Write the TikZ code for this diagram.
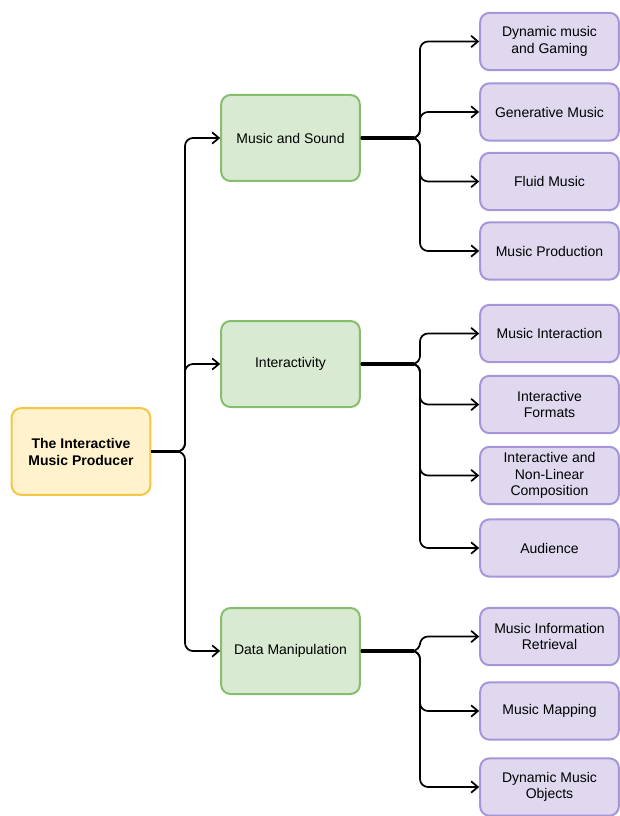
\documentclass[tikz,border=0pt]{standalone}
\usepackage{fontspec}
\setmainfont{Liberation Sans}
\usetikzlibrary{positioning, arrows.meta}

\definecolor{root_fill}{HTML}{FFF2CC}
\definecolor{root_line}{HTML}{F2C744}
\definecolor{mid_fill}{HTML}{D9EAD3}
\definecolor{mid_line}{HTML}{85BF6C}
\definecolor{leaf_fill}{HTML}{E0D8EF}
\definecolor{leaf_line}{HTML}{A795DA}

\begin{document}
\begin{tikzpicture}[
    x=0.75pt, y=-0.75pt,
    font=\fontsize{10.5}{12.5}\selectfont,
    box/.style={rounded corners=7pt, line width=1.5pt, align=center, inner sep=2pt, minimum width=104pt},
    root_box/.style={box, fill=root_fill, draw=root_line, minimum height=65pt, font=\fontsize{10.5}{12.75}\selectfont\bfseries},
    mid_box/.style={box, fill=mid_fill, draw=mid_line, minimum height=64.5pt},
    leaf_box/.style={box, fill=leaf_fill, draw=leaf_line, minimum height=43pt},
    link/.style={-{Straight Barb[length=5pt,width=8.5pt,line width=1.3pt]}, line width=1.3pt, rounded corners=6pt},
    stem/.style={line width=2.6pt}
]

% Frame of the page
\useasboundingbox (0,0) rectangle (620,816);

% Columns
\def\xRoot{81}
\def\xMid{290.5}
\def\xLeaf{549.5}
\coordinate (trunk_a) at (185,0);
\coordinate (stem_a) at (179,0);
\coordinate (trunk_b) at (420,0);
\coordinate (stem_b) at (414,0);

% ==========================================
% Root and the three topics
\node[root_box] (root) at (\xRoot, 451.5) {The Interactive\\Music Producer};
\node[mid_box] (sound) at (\xMid, 138) {Music and Sound};
\node[mid_box] (inter) at (\xMid, 364) {Interactivity};
\node[mid_box] (data) at (\xMid, 651) {Data Manipulation};

% ==========================================
% Music and Sound
\node[leaf_box] (gaming) at (\xLeaf, 41.5) {Dynamic music\\and Gaming};
\node[leaf_box] (generative) at (\xLeaf, 112) {Generative Music};
\node[leaf_box] (fluid) at (\xLeaf, 181.5) {Fluid Music};
\node[leaf_box] (production) at (\xLeaf, 251) {Music Production};

% ==========================================
% Interactivity
\node[leaf_box] (interaction) at (\xLeaf, 333.5) {Music Interaction};
\node[leaf_box] (formats) at (\xLeaf, 404.5) {Interactive\\Formats};
\node[leaf_box] (composition) at (\xLeaf, 475.5) {Interactive and\\Non-Linear\\Composition};
\node[leaf_box] (audience) at (\xLeaf, 548) {Audience};

% ==========================================
% Data Manipulation
\node[leaf_box] (retrieval) at (\xLeaf, 636.5) {Music Information\\Retrieval};
\node[leaf_box] (mapping) at (\xLeaf, 711) {Music Mapping};
\node[leaf_box] (objects) at (\xLeaf, 787) {Dynamic Music\\Objects};

% ==========================================
% Connectors
\draw[stem] (root.east) -- (root.east -| stem_a);
\foreach \topic in {sound, inter, data}
    \draw[link] (root.east) -- (root.east -| trunk_a) |- (\topic.west);

\draw[stem] (sound.east) -- (sound.east -| stem_b);
\foreach \leaf in {gaming, generative, fluid, production}
    \draw[link] (sound.east) -- (sound.east -| trunk_b) |- (\leaf.west);

\draw[stem] (inter.east) -- (inter.east -| stem_b);
\foreach \leaf in {interaction, formats, composition, audience}
    \draw[link] (inter.east) -- (inter.east -| trunk_b) |- (\leaf.west);

\draw[stem] (data.east) -- (data.east -| stem_b);
\foreach \leaf in {retrieval, mapping, objects}
    \draw[link] (data.east) -- (data.east -| trunk_b) |- (\leaf.west);

\end{tikzpicture}
\end{document}
